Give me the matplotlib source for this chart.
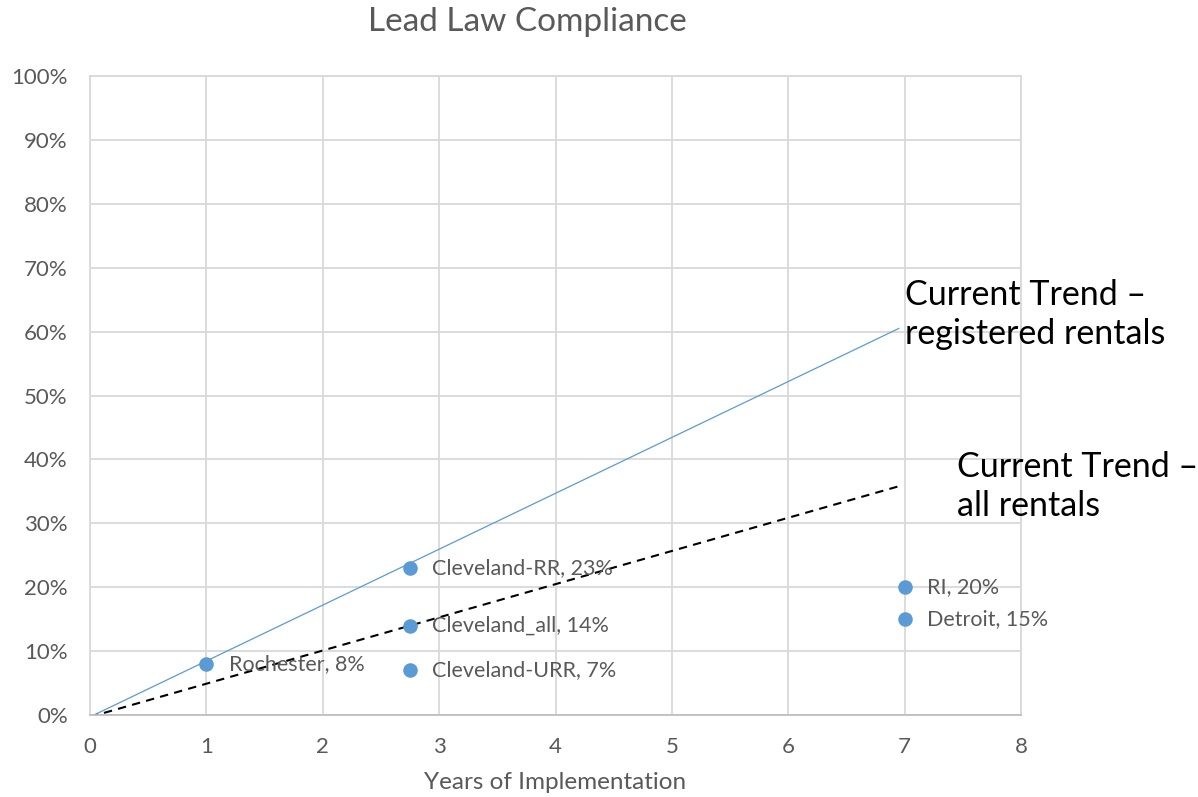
import matplotlib
matplotlib.use('Agg')
import matplotlib.pyplot as plt
from matplotlib.ticker import PercentFormatter

plt.rcParams['font.family'] = ['Lato', 'DejaVu Sans']

# Data points (years, compliance %)
names = ['Rochester', 'Cleveland-RR', 'Cleveland_all', 'Cleveland-URR', 'RI', 'Detroit']
years = [1, 2.75, 2.75, 2.75, 7, 7]
compliance = [8, 23, 14, 7, 20, 15]

# Trend lines (drawn as straight segments)
trend_x = [0, 6.95]
trend_registered = [-0.3, 60.5]
trend_all = [-0.3, 35.8]

blue = '#5B9BD5'
grey_text = '#595959'
grid_col = '#D9D9D9'

fig = plt.figure(figsize=(11.98, 7.97), dpi=100)
ax = fig.add_axes([0.0751, 0.1029, 0.7772, 0.8017])

ax.plot(trend_x, trend_registered, color=blue, linewidth=0.9, zorder=2)
ax.plot(trend_x, trend_all, color='black', linewidth=1.5, linestyle=(0, (4, 3)), zorder=2)
ax.scatter(years, compliance, s=110, color=blue, zorder=3, linewidths=0)

for n, x, y in zip(names, years, compliance):
    ax.annotate(f'{n}, {y}%', (x, y), xytext=(16, 0), textcoords='offset points',
                va='center', ha='left', fontsize=15.5, color=grey_text, zorder=4)

ax.set_xlim(0, 8)
ax.set_ylim(0, 100)
ax.set_xticks(range(0, 9))
ax.set_yticks(range(0, 101, 10))
ax.yaxis.set_major_formatter(PercentFormatter(decimals=0))
ax.grid(True, color=grid_col, linewidth=1.3)
ax.set_axisbelow(True)
for s in ['left', 'top', 'right']:
    ax.spines[s].set_color(grid_col)
    ax.spines[s].set_linewidth(1.3)
ax.spines['bottom'].set_color('#BFBFBF')
ax.spines['bottom'].set_linewidth(1.3)
ax.tick_params(length=0, labelsize=16, colors=grey_text, pad=16)
ax.tick_params(axis='x', pad=16)

ax.set_xlabel('Years of Implementation', fontsize=17.5, color=grey_text, labelpad=11)
fig.text(0.44, 0.972, 'Lead Law Compliance', fontsize=24, color=grey_text, ha='center', va='center')

fig.text(905 / 1198, 1 - 279 / 797, 'Current Trend –\nregistered rentals', fontsize=24.5,
         color='black', ha='left', va='top', linespacing=1.27)
fig.text(957 / 1198, 1 - 451 / 797, 'Current Trend –\nall rentals', fontsize=24.5,
         color='black', ha='left', va='top', linespacing=1.27)

fig.savefig('out.png', dpi=100)
